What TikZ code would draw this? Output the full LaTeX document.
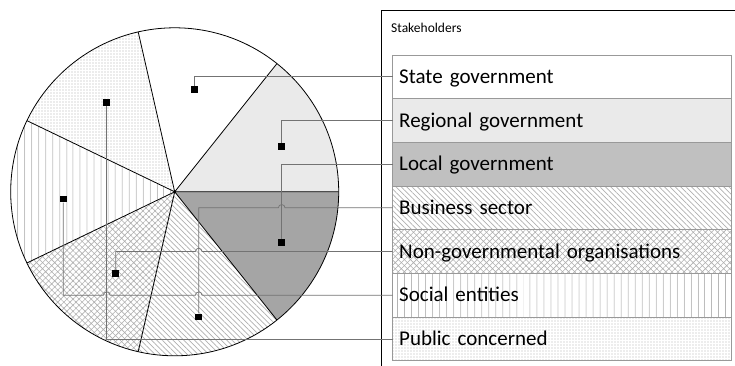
\documentclass[tikz,border=0pt]{standalone}
\usepackage{fontspec}
\setmainfont{Carlito}
\usetikzlibrary{positioning,patterns.meta}
\definecolor{lightfill}{HTML}{EAEAEA}
\definecolor{darkfill}{HTML}{A5A5A5}
\definecolor{keyfill}{HTML}{C0C0C0}
\definecolor{hatchgray}{HTML}{B0B0B0}

\begin{document}
\begin{tikzpicture}[x=1pt,y=-1pt,
    slice/.style={draw=black,line width=0.8pt},
    row node/.style={draw=black!40,line width=0.7pt,outer sep=0pt,minimum width=338.6pt,minimum height=43.67pt,text width=325.6pt,inner xsep=6.5pt,align=left,text height=13.3pt,text depth=0pt,font=\fontsize{21}{23}\selectfont},
    dot node/.style={fill=black,minimum size=6.7pt,inner sep=0pt},
    leader/.style={draw=black!55,line width=0.7pt},
    vlines/.style={pattern={Lines[angle=90,distance=7.4pt,line width=0.8pt]},pattern color=hatchgray},
    dlines/.style={pattern={Lines[angle=-45,distance=3.8pt,line width=0.7pt]},pattern color=hatchgray},
    xlines/.style={pattern={Hatch[angle=45,distance=4.3pt,line width=0.6pt]},pattern color=hatchgray},
    fine dots/.style={pattern={Dots[distance=3pt,radius=0.55pt]},pattern color=hatchgray}]
    \useasboundingbox (0,0) rectangle (735,366);

    % pie
    \coordinate (c) at (174.7,191.8);
    \fill[white] (c) circle[radius=164pt];
    \fill[lightfill] (c) -- ++(0:164pt) arc[start angle=0,end angle=51.43,radius=164pt] -- cycle;
    \fill[fine dots] (c) -- ++(102.86:164pt) arc[start angle=102.86,end angle=154.29,radius=164pt] -- cycle;
    \fill[vlines] (c) -- ++(154.29:164pt) arc[start angle=154.29,end angle=205.71,radius=164pt] -- cycle;
    \fill[xlines] (c) -- ++(205.71:164pt) arc[start angle=205.71,end angle=257.14,radius=164pt] -- cycle;
    \fill[dlines] (c) -- ++(257.14:164pt) arc[start angle=257.14,end angle=308.57,radius=164pt] -- cycle;
    \fill[darkfill] (c) -- ++(308.57:164pt) arc[start angle=308.57,end angle=360,radius=164pt] -- cycle;
    \draw[slice] (c) -- ++(0:164pt) (c) -- ++(51.43:164pt) (c) -- ++(102.86:164pt)
        (c) -- ++(154.29:164pt) (c) -- ++(205.71:164pt) (c) -- ++(257.14:164pt)
        (c) -- ++(308.57:164pt);
    \draw[slice] (c) circle[radius=164pt];

    % markers
    \node[dot node] (m-state) at (194.3,89.7) {};
    \node[dot node] (m-regional) at (281.7,146.7) {};
    \node[dot node] (m-local) at (281.7,242.7) {};
    \node[dot node] (m-business) at (198.7,317) {};
    \node[dot node] (m-ngo) at (115.7,273.3) {};
    \node[dot node] (m-social) at (63.3,199) {};
    \node[dot node] (m-public) at (106.7,102.3) {};

    % legend
    \draw[line width=0.8pt] (381.7,366) -- (381.7,10.8) -- (735,10.8);
    \node[anchor=base west,inner sep=0pt,font=\fontsize{13.5}{15}\selectfont] (title) at (391,32.3) {Stakeholders};
    \node[row node,fill=white,anchor=north west] (r-state) at (392.7,55) {State government};
    \node[row node,fill=lightfill,below=0pt of r-state] (r-regional) {Regional government};
    \node[row node,fill=keyfill,below=0pt of r-regional] (r-local) {Local government};
    \node[row node,dlines,below=0pt of r-local] (r-business) {Business sector};
    \node[row node,xlines,below=0pt of r-business] (r-ngo) {Non-governmental organisations};
    \node[row node,vlines,below=0pt of r-ngo] (r-social) {Social entities};
    \node[row node,fine dots,below=0pt of r-social] (r-public) {Public concerned};

    % leaders
    \draw[leader] (m-state.north) |- (r-state.west);
    \draw[leader] (m-regional.north) |- (r-regional.west);
    \draw[leader] (m-local.north) |- (r-local.west);
    \draw[leader] (m-business.north) |- ([xshift=-3.3pt]m-local.center |- r-business.west)
        arc[start angle=180,end angle=0,radius=3.3pt] -- (r-business.west);
    \draw[leader] (m-ngo.north) |- ([xshift=-3.3pt]m-business.center |- r-ngo.west)
        arc[start angle=180,end angle=0,radius=3.3pt] -- (r-ngo.west);
    \draw[leader] (m-social.south) |- ([xshift=-3.3pt]m-public.center |- r-social.west)
        arc[start angle=180,end angle=0,radius=3.3pt] -- ([xshift=-3.3pt]m-business.center |- r-social.west)
        arc[start angle=180,end angle=0,radius=3.3pt] -- (r-social.west);
    \draw[leader] (m-public.south) |- (r-public.west);
\end{tikzpicture}
\end{document}
